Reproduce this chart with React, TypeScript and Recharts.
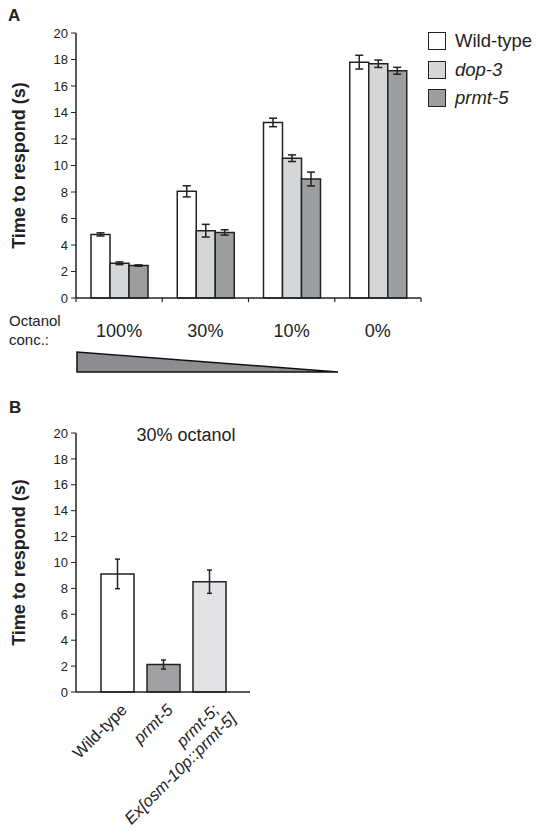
import React from 'react';
import { BarChart, Bar, XAxis, YAxis, ErrorBar, Legend, Cell } from 'recharts';

// Panel A: time to respond across octanol concentrations
const concentrations = ['100%', '30%', '10%', '0%'];
const wildType = [4.8, 8.05, 13.25, 17.8];
const wildTypeErr = [0.12, 0.42, 0.32, 0.52];
const dop3 = [2.62, 5.08, 10.55, 17.68];
const dop3Err = [0.1, 0.48, 0.25, 0.28];
const prmt5 = [2.45, 4.95, 8.98, 17.15];
const prmt5Err = [0.05, 0.2, 0.52, 0.26];

// Panel B: 30% octanol, rescue
const strains = ['Wild-type', 'prmt-5', 'prmt-5; Ex[osm-10p::prmt-5]'];
const strainValues = [9.12, 2.12, 8.52];
const strainErr = [1.14, 0.35, 0.9];
const strainColors = ['#ffffff', '#a0a0a2', '#e4e4e6'];

const yTicks = [0, 2, 4, 6, 8, 10, 12, 14, 16, 18, 20];

const FONT = '"Liberation Sans", Arial, Helvetica, sans-serif';
const INK = '#222';

const dataA = concentrations.map((c, i) => ({
  conc: c,
  wt: wildType[i], wtErr: wildTypeErr[i],
  dop3: dop3[i], dop3Err: dop3Err[i],
  prmt5: prmt5[i], prmt5Err: prmt5Err[i],
}));

const dataB = strains.map((s, i) => ({ strain: s, value: strainValues[i], err: strainErr[i] }));

const A_W = 542, A_H = 390, A_MARGIN = { top: 33, right: 121, bottom: 10, left: 0 };
const bandA = (A_W - 76 - A_MARGIN.right) / concentrations.length;

const renderYLabel = (props: any) => {
  const vb = props.viewBox || {};
  const cy = vb.y + vb.height / 2;
  return (
    <text x={25} y={cy} transform={`rotate(-90, 25, ${cy})`} textAnchor="middle"
      fontFamily={FONT} fontSize={18} fontWeight="bold" fill={INK}>
      Time to respond (s)
    </text>
  );
};

const ConcTick = (props: any) => {
  const { x, y, payload, index } = props;
  const last = index === concentrations.length - 1;
  return (
    <g>
      <line x1={x - bandA / 2} y1={y} x2={x - bandA / 2} y2={y + 4} stroke={INK} strokeWidth={1.2} />
      {last && <line x1={x + bandA / 2} y1={y} x2={x + bandA / 2} y2={y + 4} stroke={INK} strokeWidth={1.2} />}
      <text x={x} y={y + 38.7} textAnchor="middle" fontFamily={FONT} fontSize={18} fill={INK}>
        {payload.value}
      </text>
    </g>
  );
};

const StrainTick = (props: any) => {
  const { x, y, payload } = props;
  const v: string = payload.value;
  const cut = v.indexOf('; ');
  const lines = cut >= 0 ? [v.slice(0, cut + 1), v.slice(cut + 2)] : [v];
  const italic = v !== 'Wild-type';
  return (
    <g transform={`translate(${x + 11}, ${y + 19}) rotate(-45)`}>
      {lines.map((ln, i) => (
        <text key={i} x={i * 6} y={i * 18} textAnchor="end" fontFamily={FONT} fontSize={16.5}
          fontStyle={italic ? 'italic' : 'normal'} fill={INK}>
          {ln}
        </text>
      ))}
    </g>
  );
};

const renderLegend = (props: any) => {
  const items = props.payload || [];
  return (
    <div style={{ fontFamily: FONT }}>
      {items.map((it: any) => (
        <div key={it.value} style={{ display: 'flex', alignItems: 'center', height: 28.5 }}>
          <div style={{
            width: 16, height: 16, background: it.payload?.fill ?? it.color,
            border: `1.5px solid ${INK}`, marginRight: 9,
          }} />
          <span style={{ fontSize: 18.5, color: INK, fontStyle: it.value === 'Wild-type' ? 'normal' : 'italic' }}>
            {it.value}
          </span>
        </div>
      ))}
    </div>
  );
};

const axisLine = { stroke: INK, strokeWidth: 1.5 };
const tickStyle = { fill: INK, fontSize: 13, fontFamily: FONT };

const App: React.FC = () => {
  return (
    <div style={{ position: 'absolute', left: 0, top: 0, width: 542, height: 832, background: '#fff' }}>
      <div style={{ position: 'absolute', left: 0, top: 0 }}>
        <BarChart width={A_W} height={A_H} data={dataA} margin={A_MARGIN} barGap={0}>
          <XAxis dataKey="conc" height={82} axisLine={axisLine} tickLine={false} tickSize={0}
            tickMargin={0} tick={<ConcTick />} interval={0} />
          <YAxis domain={[0, 20]} ticks={yTicks} width={76} axisLine={axisLine}
            tickLine={{ stroke: INK }} tickSize={5} tickMargin={3} tick={tickStyle}
            interval={0} label={renderYLabel} />
          <Legend layout="horizontal" verticalAlign="middle" align="center" content={renderLegend}
            wrapperStyle={{ left: 428, top: 26.75, width: 114 }} />
          <Bar dataKey="wt" name="Wild-type" fill="#ffffff" stroke={INK} strokeWidth={1.5}
            barSize={19} isAnimationActive={false}>
            <ErrorBar dataKey="wtErr" width={4} stroke={INK} strokeWidth={1.5} />
          </Bar>
          <Bar dataKey="dop3" name="dop-3" fill="#d5d6d8" stroke={INK} strokeWidth={1.5}
            barSize={19} isAnimationActive={false}>
            <ErrorBar dataKey="dop3Err" width={4} stroke={INK} strokeWidth={1.5} />
          </Bar>
          <Bar dataKey="prmt5" name="prmt-5" fill="#9d9ea0" stroke={INK} strokeWidth={1.5}
            barSize={19} isAnimationActive={false}>
            <ErrorBar dataKey="prmt5Err" width={4} stroke={INK} strokeWidth={1.5} />
          </Bar>
        </BarChart>
      </div>

      <div style={{ position: 'absolute', left: 0, top: 400 }}>
        <BarChart width={542} height={432} data={dataB} margin={{ top: 33, right: 292, bottom: 0, left: 0 }}>
          <XAxis dataKey="strain" height={140} axisLine={axisLine} tickLine={false} tickSize={0}
            tickMargin={0} tick={<StrainTick />} interval={0} padding={{ left: 18, right: 18 }} />
          <YAxis domain={[0, 20]} ticks={yTicks} width={76} axisLine={axisLine}
            tickLine={{ stroke: INK }} tickSize={5} tickMargin={3} tick={tickStyle}
            interval={0} label={renderYLabel} />
          <Bar dataKey="value" stroke={INK} strokeWidth={1.5} barSize={33} isAnimationActive={false}>
            {dataB.map((d, i) => <Cell key={d.strain} fill={strainColors[i]} />)}
            <ErrorBar dataKey="err" width={2.5} stroke={INK} strokeWidth={1.5} />
          </Bar>
        </BarChart>
      </div>

      <svg width={542} height={832} style={{ position: 'absolute', left: 0, top: 0, pointerEvents: 'none' }}
        fontFamily={FONT}>
        <text x={8} y={21} fontSize={17} fontWeight="bold" fill={INK}>A</text>
        <text x={9} y={326} fontSize={15} fill={INK}>Octanol</text>
        <text x={9} y={345} fontSize={15} fill={INK}>conc.:</text>
        <polygon points="77,352 77,372 338,372" fill="#8d8d8f" stroke="#111" strokeWidth={1.5} />
        <text x={9} y={413} fontSize={17} fontWeight="bold" fill={INK}>B</text>
        <text x={186} y={441} textAnchor="middle" fontSize={18} fill={INK}>30% octanol</text>
      </svg>
    </div>
  );
};

export default App;
